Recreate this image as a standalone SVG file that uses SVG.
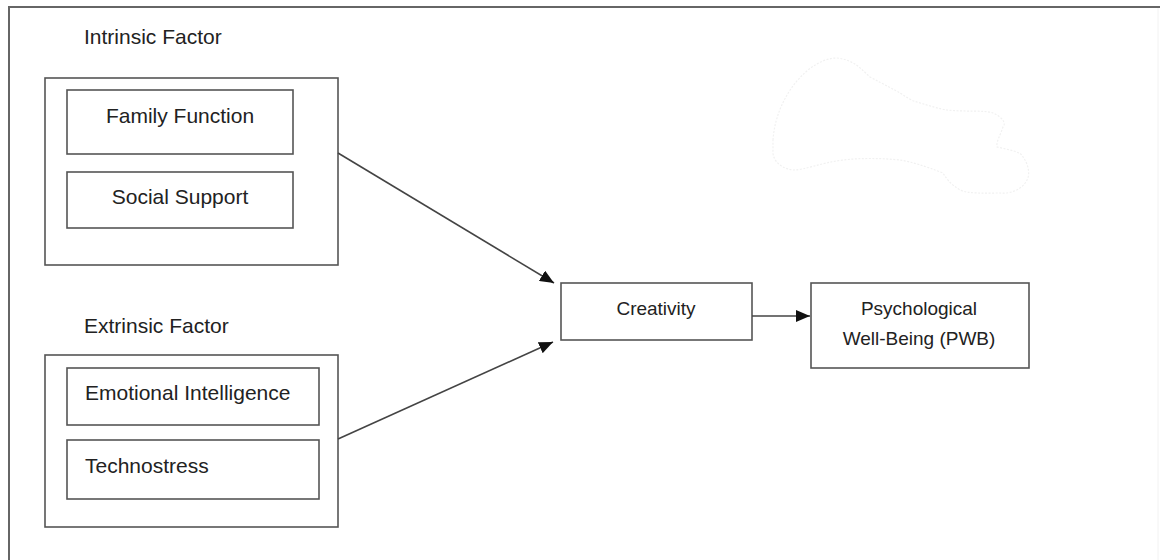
<svg xmlns="http://www.w3.org/2000/svg" width="1160" height="560" viewBox="0 0 1160 560">
<defs>
<style>
.box{fill:#fff;stroke:#555;stroke-width:1.6}
.frame{stroke:#666;stroke-width:2;fill:none}
.t{font-family:"Liberation Sans",Arial,sans-serif;font-size:21px;fill:#222}
.s{font-family:"Liberation Sans",Arial,sans-serif;font-size:19px;fill:#222}
.c{text-anchor:middle}
.edge{stroke:#444;stroke-width:1.6;fill:none}
</style>
<marker id="arr" viewBox="0 0 14 12" refX="14" refY="6" markerWidth="14" markerHeight="12" markerUnits="userSpaceOnUse" orient="auto">
<path d="M0,0 L14,6 L0,12 z" fill="#111"/>
</marker>
</defs>
<rect width="1160" height="560" fill="#fff"/>
<g id="frame">
<path class="frame" d="M9,560 L9,7 L1160,7"/>
<path d="M1158,8 L1158,560" stroke="#f2f2f2" stroke-width="1"/>
</g>
<path id="faint-cloud" d="M773,140 C776,95 810,58 837,58 C855,60 862,70 870,77 C885,85 895,90 900,93 C908,98 912,101 917,102 C930,106 940,109 947,110 C965,112 985,110 993,113 C1004,118 1006,124 1003,127 C1000,136 996,142 997,147 C1010,150 1022,152 1023,157 C1029,165 1030,175 1027,180 C1022,190 1010,194 1000,193 C985,193 968,194 960,190 C950,184 946,178 943,173 C925,166 912,162 900,160 C880,158 860,158 843,160 C820,163 805,170 793,170 C778,168 772,158 773,150 Z" fill="none" stroke="#f1f1f1" stroke-width="1.2" stroke-dasharray="2 1.5"/>
<g id="intrinsic">
<text class="t" x="84" y="44">Intrinsic Factor</text>
<rect class="box" x="45" y="78" width="293" height="187"/>
</g>
<g id="family-function">
<rect class="box" x="67" y="90" width="226" height="64"/>
<text class="t c" x="180" y="123">Family Function</text>
</g>
<g id="social-support">
<rect class="box" x="67" y="172" width="226" height="56"/>
<text class="t c" x="180" y="204">Social Support</text>
</g>
<g id="extrinsic">
<text class="t" x="84" y="333">Extrinsic Factor</text>
<rect class="box" x="45" y="355" width="293" height="172"/>
</g>
<g id="emotional-intelligence">
<rect class="box" x="67" y="368" width="252" height="57"/>
<text class="t" x="85" y="400">Emotional Intelligence</text>
</g>
<g id="technostress">
<rect class="box" x="67" y="440" width="252" height="59"/>
<text class="t" x="85" y="473">Technostress</text>
</g>
<g id="creativity">
<rect class="box" x="561" y="283" width="191" height="57"/>
<text class="s c" x="656" y="315">Creativity</text>
</g>
<g id="pwb">
<rect class="box" x="811" y="283" width="218" height="85"/>
<text class="s c" x="919" y="315">Psychological</text>
<text class="s c" x="919" y="345">Well-Being (PWB)</text>
</g>
<g id="connectors">
<path class="edge" d="M338,153 L554,283" marker-end="url(#arr)"/>
<path class="edge" d="M338,439 L553,342" marker-end="url(#arr)"/>
<path class="edge" d="M752,316 L810,316" marker-end="url(#arr)"/>
</g>
</svg>
